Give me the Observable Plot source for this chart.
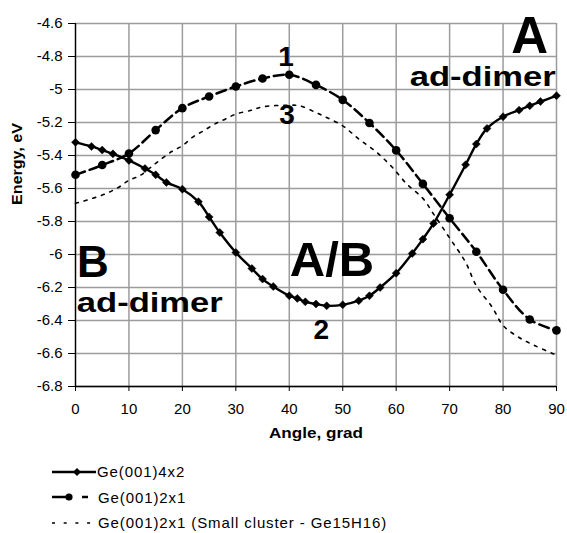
<!DOCTYPE html>
<html>
<head>
<meta charset="utf-8">
<script src="https://cdn.jsdelivr.net/npm/d3@7"></script>
<script src="https://cdn.jsdelivr.net/npm/@observablehq/plot@0.6"></script>
<style>
  html, body { margin: 0; padding: 0; background: #fff; }
  body { font-family: "Liberation Sans", Arial, sans-serif; color: #000; width: 567px; }
  #legend { padding-top: 13px; }
  .row { height: 25.5px; display: flex; align-items: center; font-size: 15px; letter-spacing: 0.9px; }
  .row svg { margin-left: 52px; margin-right: 1px; flex: none; }
</style>
</head>
<body>
<div id="chart"></div>
<div id="legend"></div>
<script>
// ---- data ----
const seriesNames = ["Ge(001)4x2", "Ge(001)2x1", "Ge(001)2x1 (Small cluster - Ge15H16)"];

const angles4x2 = [0, 3, 5, 7, 10, 13, 15, 17, 20, 23, 25, 27, 30, 33, 35, 37, 40, 41.5, 43, 45, 47, 50,
                   53, 55, 57, 60, 63, 65, 67, 70, 73, 75, 77, 80, 83, 85, 87, 90];
const energy4x2 = [-5.32, -5.345, -5.367, -5.39, -5.43, -5.479, -5.517, -5.563, -5.604, -5.68, -5.772, -5.867,
                   -5.988, -6.085, -6.149, -6.194, -6.25, -6.266, -6.287, -6.300, -6.311, -6.305,
                   -6.28, -6.25, -6.2, -6.113, -5.994, -5.907, -5.812, -5.638, -5.456, -5.331, -5.236,
                   -5.165, -5.125, -5.099, -5.073, -5.038];

const angles2x1 = [0, 5, 10, 15, 20, 25, 30, 35, 40, 45, 50, 55, 60, 65, 70, 75, 80, 85, 90];
const energy2x1 = [-5.517, -5.458, -5.388, -5.246, -5.113, -5.042, -4.982, -4.933, -4.911, -4.972, -5.063,
                   -5.203, -5.369, -5.572, -5.78, -5.983, -6.214, -6.394, -6.46];

const anglesSmall = [0, 5, 8, 10, 12, 15, 18, 20, 22, 24, 26, 28, 30, 33, 35, 40, 42, 45, 47, 50, 53, 56,
                     59, 62, 65, 67, 70, 73, 75, 78, 80, 83, 86, 90];
const energySmall = [-5.69, -5.64, -5.594, -5.55, -5.523, -5.448, -5.376, -5.341, -5.287, -5.25, -5.21, -5.18,
                     -5.149, -5.125, -5.105, -5.095, -5.099, -5.14, -5.17, -5.22, -5.30, -5.371,
                     -5.462, -5.573, -5.66, -5.755, -5.9, -6.048, -6.19, -6.321, -6.43, -6.503, -6.553, -6.61];

const xTicks = [0, 10, 20, 30, 40, 50, 60, 70, 80, 90];
const yTicks = [-4.6, -4.8, -5, -5.2, -5.4, -5.6, -5.8, -6, -6.2, -6.4, -6.6, -6.8];
const xTitle = "Angle, grad";
const yTitle = "Energy, eV";
const annotationTexts = ["A", "ad-dimer", "B", "ad-dimer", "A/B", "1", "2", "3"];

// ---- tables built from the arrays ----
const s4x2 = angles4x2.map((a, i) => ({x: a, y: energy4x2[i]}));
const s2x1 = angles2x1.map((a, i) => ({x: a, y: energy2x1[i]}));
const sSmall = anglesSmall.map((a, i) => ({x: a, y: energySmall[i]}));

const FONT = "Liberation Sans, Arial, sans-serif";
const grid = {stroke: "#9c9c9c", strokeOpacity: 1, strokeWidth: 1.5};

function label(text, x, y, size) {
  return Plot.text([{text, x, y}], {
    x: "x", y: "y", text: "text", fontSize: size, fontWeight: "bold",
    lineAnchor: "bottom", textAnchor: "middle", fill: "#000"
  });
}

const chart = Plot.plot({
  width: 567,
  height: 446,
  marginLeft: 75,
  marginRight: 11,
  marginTop: 23,
  marginBottom: 60,
  style: {fontFamily: FONT, fontSize: "15px", color: "#000", background: "#fff", overflow: "visible"},
  x: {domain: [0, 90]},
  y: {domain: [-6.8, -4.6]},
  marks: [
    Plot.gridX(xTicks, grid),
    Plot.gridY(yTicks, grid),
    Plot.ruleX([0], {stroke: "#000", strokeWidth: 1.3}),
    Plot.ruleY([-6.8], {stroke: "#000", strokeWidth: 1.3}),
    Plot.axisX(xTicks, {tickSize: 5, tickPadding: 12, tickFormat: d => String(d), label: null, fontSize: 15}),
    Plot.axisY(yTicks, {tickSize: 7, tickPadding: 6, tickFormat: d => String(d), label: null, fontSize: 15}),
    Plot.text([xTitle], {text: d => d, frameAnchor: "bottom", dy: 51, lineAnchor: "bottom",
                         fontWeight: "bold", fontSize: 14}),
    Plot.text([yTitle], {text: d => d, frameAnchor: "left", dx: -57.5, rotate: -90, lineAnchor: "middle",
                         fontWeight: "bold", fontSize: 14}),
    // series 3: small cluster, dotted
    Plot.line(sSmall, {x: "x", y: "y", stroke: "#000", strokeWidth: 1.6, strokeDasharray: "3,6",
                       curve: "catmull-rom"}),
    // series 2: Ge(001)2x1, dashed with circles
    Plot.line(s2x1, {x: "x", y: "y", stroke: "#000", strokeWidth: 2.5, strokeDasharray: "10,5",
                     curve: "catmull-rom"}),
    Plot.dot(s2x1, {x: "x", y: "y", r: 4.3, fill: "#000", stroke: "none"}),
    // series 1: Ge(001)4x2, solid with diamonds
    Plot.line(s4x2, {x: "x", y: "y", stroke: "#000", strokeWidth: 2.4, curve: "catmull-rom"}),
    Plot.dot(s4x2, {x: "x", y: "y", symbol: "diamond2", r: 3.6, fill: "#000", stroke: "#000", strokeWidth: 0.5}),
    // annotations
    label(annotationTexts[0], 84.96, -4.776, 51),
    label(annotationTexts[1], 76.2, -4.978, 28),
    label(annotationTexts[2], 3.27, -6.139, 44),
    label(annotationTexts[3], 13.9, -6.351, 28),
    label(annotationTexts[4], 48.0, -6.129, 49),
    label(annotationTexts[5], 39.4, -4.856, 28),
    label(annotationTexts[6], 46.0, -6.513, 28),
    label(annotationTexts[7], 39.6, -5.21, 28)
  ]
});
document.getElementById("chart").appendChild(chart);

// stretch some texts to the wide face of the original
const widths = {"ad-dimer": 146, "Angle, grad": 94, "Energy, eV": 82};
d3.select(chart).selectAll("text").each(function() {
  const w = widths[this.textContent];
  if (w) {
    this.setAttribute("textLength", w);
    this.setAttribute("lengthAdjust", "spacingAndGlyphs");
  }
});

// ---- legend ----
const legend = d3.select("#legend");
const swatches = [
  svg => {
    svg.append("line").attr("x1", 0).attr("x2", 44).attr("y1", 7).attr("y2", 7)
      .attr("stroke", "#000").attr("stroke-width", 2.4);
    svg.append("path").attr("d", d3.symbol(d3.symbolDiamond2, 40)()).attr("transform", "translate(25,7)");
  },
  svg => {
    svg.append("line").attr("x1", 0).attr("x2", 16).attr("y1", 7).attr("y2", 7)
      .attr("stroke", "#000").attr("stroke-width", 2.5);
    svg.append("circle").attr("cx", 17).attr("cy", 7).attr("r", 3.6).attr("fill", "#000");
    svg.append("line").attr("x1", 30).attr("x2", 36).attr("y1", 7).attr("y2", 7)
      .attr("stroke", "#000").attr("stroke-width", 2.5);
  },
  svg => {
    svg.append("line").attr("x1", 0).attr("x2", 44).attr("y1", 7).attr("y2", 7)
      .attr("stroke", "#000").attr("stroke-width", 1.6).attr("stroke-dasharray", "3,8.7");
  }
];
seriesNames.forEach((name, i) => {
  const row = legend.append("div").attr("class", "row");
  const svg = row.append("svg").attr("width", 44).attr("height", 14);
  swatches[i](svg);
  row.append("span").text(name).style("margin-left", i === 0 ? "0px" : "1px");
});
</script>
</body>
</html>
